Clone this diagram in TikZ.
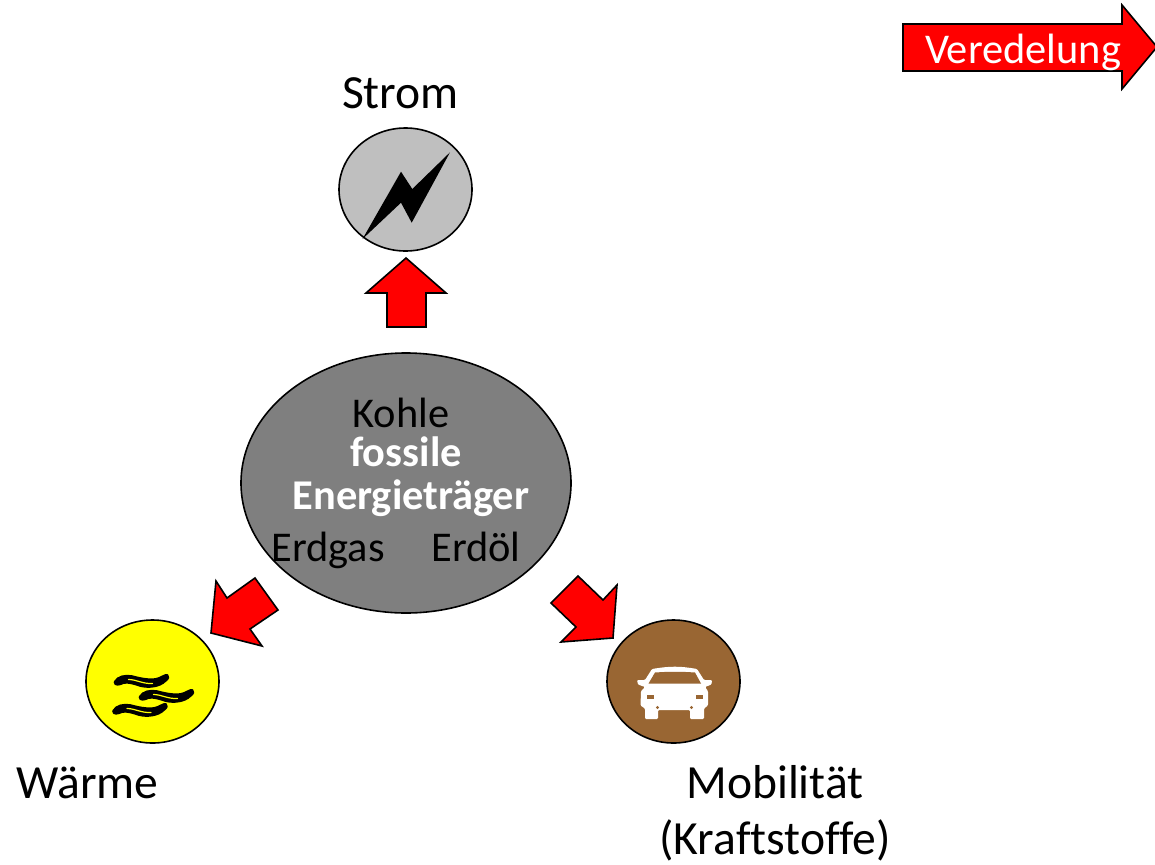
\documentclass[tikz,border=0pt]{standalone}
\usepackage{fontspec}
\setmainfont{Carlito}[Ligatures=NoCommon]
\usetikzlibrary{shapes.geometric}
\definecolor{brownc}{HTML}{996633}
\definecolor{grayl}{HTML}{BFBFBF}
\definecolor{grayd}{HTML}{7F7F7F}
\definecolor{yel}{RGB}{255,255,0}
\definecolor{redc}{RGB}{255,0,0}
\tikzset{
  x=0.75pt,y=-0.75pt,
  blockarrow/.style={draw=black,fill=redc,line width=1.2pt,line join=miter},
  disc/.style={ellipse,draw=black,line width=1.2pt,inner sep=0pt,minimum width=99.75pt,minimum height=92.25pt},
  big/.style={font=\fontsize{35.7pt}{35.7pt}\selectfont,anchor=base,inner sep=0pt},
  small/.style={font=\fontsize{31.8pt}{31.8pt}\selectfont,anchor=base,inner sep=0pt},
  smallb/.style={small,font=\fontsize{31.8pt}{31.8pt}\selectfont\bfseries,text=white},
}
\begin{document}
\begin{tikzpicture}
\useasboundingbox (0,0) rectangle (1155,864);
\path[clip] (0,0) rectangle (1155,864);
% Veredelung arrow
\draw[blockarrow] (903,24) -- (1122,24) -- (1122,5) -- (1157,47) -- (1122,89) -- (1122,71) -- (903,71) -- cycle;
\node[small,text=white] (ver) at (1023,63) {Veredelung};
% Discs
\node[disc,fill=grayl] (strom) at (405.5,189.5) {};
\node[disc,fill=yel] (waerme) at (152.5,681.5) {};
\node[disc,fill=brownc] (mob) at (673.5,681.5) {};
\node[ellipse,draw=black,line width=1.2pt,fill=grayd,inner sep=0pt,minimum width=247.5pt,minimum height=195pt] (fossil) at (406,483) {};
% Block arrows
\draw[blockarrow] (406,258) -- (446,293) -- (426,293) -- (426,327) -- (387,327) -- (387,293) -- (366,293) -- cycle;
\draw[blockarrow] (211,633) -- (216,581) -- (227,598) -- (255,578) -- (278,610) -- (250,629) -- (262,646) -- cycle;
\draw[blockarrow] (613,638) -- (617,585) -- (603,600) -- (578,576) -- (551,603) -- (576,627) -- (561,642) -- cycle;
% Bolt
\fill[black] (362.5,239) -- (401,171.7) -- (412.3,189) -- (450,152.3) -- (411.7,222.7) -- (401,202.7) -- cycle;
% Heat waves
\foreach \sx/\sy in {114.5/682, 139.5/697, 113/711}{
  \begin{scope}[shift={(\sx,\sy)}]
  \filldraw[black,line width=1.3pt,line join=round] (0,0) .. controls (3,-6) and (11,-7) .. (17,-6) .. controls (25,-4) and (33,-2) .. (41,-3)
    .. controls (47,-4) and (50,-8) .. (53,-7) .. controls (55,-6) and (54,-3) .. (51,-1)
    .. controls (45,5) and (34,6) .. (26,4) .. controls (20,2) and (14,0) .. (9,1)
    .. controls (5,3) and (0,4) .. (0,0) -- cycle;
  \draw[yel,line width=0.9pt,line cap=round] (14,-2.5) .. controls (22,-2.5) and (28,2) .. (38,1.5);
  \end{scope}
}
% Car
\fill[white,rounded corners=0.8pt] (652,669) .. controls (670,666) and (680,666) .. (697,669)
  -- (704,680) -- (712,680) -- (711.5,684.5) -- (705,687) -- (708,691) -- (708,705.5) -- (704,708.5) -- (704,719)
  -- (690,719) -- (690,710) -- (658,710) -- (658,719) -- (645,719) -- (645,708.5) -- (640.5,705.5) -- (641,691) -- (645,687)
  -- (638,684.5) -- (637,680) -- (645,680) -- cycle;
\fill[brownc] (655,672.5) .. controls (670,671.5) and (680,671.5) .. (695,672.5) -- (701,683.5) -- (648.5,683.5) -- cycle;
\fill[brownc] (647,695) rectangle (654,699);
\fill[brownc] (696,695) rectangle (703,699);
\fill[brownc] (657.5,707.5) circle (1.6);
\fill[brownc] (691.5,707.5) circle (1.6);
% Labels
\node[big] (tstrom) at (400.5,108) {Strom};
\node[small] (tkohle) at (401,427) {Kohle};
\node[smallb] (tfoss) at (406,466) {fossile};
\node[smallb] (tener) at (411,509) {Energieträger};
\node[small] (tgas) at (328,561) {Erdgas};
\node[small] (toel) at (476,561) {Erdöl};
\node[big] (twae) at (87.5,798) {Wärme};
\node[big] (tmob) at (775,798) {Mobilität};
\node[big] (tkr) at (775,854) {(Kraftstoffe)};
\end{tikzpicture}
\end{document}
